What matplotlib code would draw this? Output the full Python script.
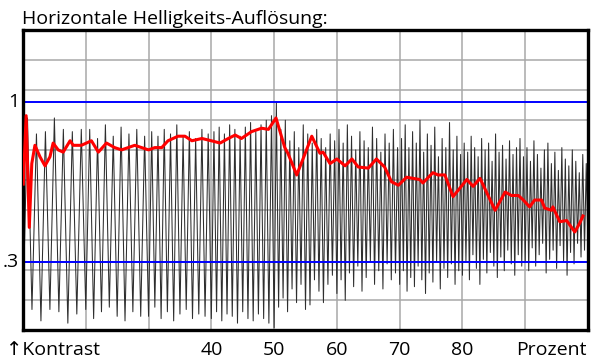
import numpy as np
import matplotlib
matplotlib.use("Agg")
import matplotlib.pyplot as plt
import matplotlib.transforms as mtransforms

plt.rcParams["font.family"] = ["Open Sans", "DejaVu Sans"]

# x axis: percent, one block of cycles per 10 % step
seg_starts = [10, 20, 30, 40, 50, 60, 70, 80, 90]
cycles_per_seg = [7, 8, 10, 12, 14, 15, 17, 18, 18]

peaks = [
    [0.93, 0.86, 0.87, 0.93, 0.88, 0.87, 0.88],
    [0.88, 0.84, 0.90, 0.85, 0.89, 0.86, 0.88, 0.85],
    [0.87, 0.85, 0.88, 0.86, 0.90, 0.85, 0.87, 0.84, 0.88, 0.86],
    [0.87, 0.89, 0.86, 0.90, 0.88, 0.85, 0.89, 0.91, 0.87, 0.90, 0.92, 0.94],
    [1.00, 0.88, 0.92, 0.83, 0.87, 0.80, 0.90, 0.86, 0.82, 0.88, 0.84, 0.80, 0.86, 0.83],
    [0.88, 0.82, 0.90, 0.85, 0.79, 0.87, 0.83, 0.80, 0.89, 0.84, 0.78, 0.86, 0.82, 0.88, 0.80],
    [0.84, 0.90, 0.80, 0.87, 0.82, 0.92, 0.78, 0.86, 0.81, 0.89, 0.76, 0.84, 0.80, 0.91, 0.79, 0.85, 0.77],
    [0.82, 0.78, 0.85, 0.80, 0.76, 0.84, 0.79, 0.82, 0.74, 0.86, 0.78, 0.81, 0.75, 0.83, 0.77, 0.80, 0.84, 0.76],
    [0.80, 0.74, 0.83, 0.77, 0.71, 0.79, 0.82, 0.73, 0.78, 0.70, 0.80, 0.75, 0.72, 0.79, 0.74, 0.69, 0.77, 0.73],
]
troughs = [
    [0.10, 0.09, 0.04, 0.09, 0.08, 0.03, 0.07],
    [0.09, 0.05, 0.08, 0.10, 0.06, 0.04, 0.08, 0.06],
    [0.06, 0.10, 0.05, 0.08, 0.04, 0.07, 0.09, 0.05, 0.07, 0.06],
    [0.05, 0.08, 0.04, 0.07, 0.06, 0.03, 0.08, 0.05, 0.04, 0.07, 0.05, 0.03],
    [0.01, 0.10, 0.14, 0.08, 0.18, 0.12, 0.20, 0.09, 0.11, 0.22, 0.17, 0.12, 0.20, 0.24],
    [0.16, 0.22, 0.13, 0.25, 0.19, 0.28, 0.17, 0.23, 0.30, 0.20, 0.26, 0.18, 0.29, 0.22, 0.25],
    [0.20, 0.26, 0.17, 0.23, 0.19, 0.28, 0.22, 0.16, 0.25, 0.21, 0.30, 0.18, 0.27, 0.23, 0.29, 0.20, 0.26],
    [0.24, 0.30, 0.22, 0.33, 0.27, 0.20, 0.31, 0.25, 0.34, 0.28, 0.23, 0.32, 0.26, 0.35, 0.29, 0.24, 0.33, 0.28],
    [0.30, 0.26, 0.36, 0.28, 0.33, 0.38, 0.25, 0.31, 0.35, 0.27, 0.37, 0.30, 0.24, 0.34, 0.29, 0.38, 0.32, 0.35],
]

# smoothed contrast curve (red)
red_x = [10.05, 10.5, 11.0, 11.4, 11.9, 12.7, 13.5, 14.3, 14.8, 15.6, 16.4, 17.5, 18.0, 19.3,
         20.9, 22.0, 23.3, 24.6, 25.7, 27.8, 30.0, 31.0, 32.1, 33.1, 34.7, 35.8, 36.9, 38.5,
         40.0, 41.4, 42.7, 43.8, 44.8, 46.4, 48.0, 49.1, 50.3, 51.7, 52.2, 53.6, 54.6, 56.0,
         57.3, 57.8, 58.9, 60.0, 61.3, 62.4, 63.4, 65.0, 66.3, 67.6, 68.7, 69.8, 71.1, 73.2,
         73.7, 75.3, 76.1, 77.2, 78.5, 80.7, 81.7, 82.8, 85.2, 86.8, 87.8, 88.9, 89.7, 90.7,
         91.5, 92.6, 93.1, 94.2, 94.4, 95.5, 96.6, 97.9, 98.7, 99.2]
red_y = [0.64, 0.94, 0.45, 0.73, 0.81, 0.76, 0.72, 0.76, 0.82, 0.79, 0.78, 0.83, 0.81, 0.81,
         0.83, 0.78, 0.82, 0.80, 0.79, 0.81, 0.79, 0.80, 0.80, 0.83, 0.85, 0.85, 0.83, 0.84,
         0.83, 0.82, 0.84, 0.855, 0.84, 0.87, 0.885, 0.88, 0.93, 0.80, 0.775, 0.68, 0.75, 0.85,
         0.775, 0.78, 0.73, 0.75, 0.72, 0.75, 0.715, 0.71, 0.75, 0.715, 0.65, 0.635, 0.67, 0.66,
         0.645, 0.69, 0.68, 0.68, 0.585, 0.66, 0.63, 0.665, 0.525, 0.605, 0.59, 0.59, 0.57, 0.54,
         0.57, 0.57, 0.535, 0.525, 0.54, 0.475, 0.48, 0.43, 0.47, 0.50]

ref_levels = [1.0, 0.3]
ref_labels = ["1", ".3"]
x_labels = [40, 50, 60, 70, 80]

# build the zig-zag trace from the per-cycle peaks and troughs
wx, wy = [], []
for s, n, pk, tr in zip(seg_starts, cycles_per_seg, peaks, troughs):
    step = 10.0 / n
    for j in range(n):
        wx += [s + j * step, s + (j + 0.5) * step]
        wy += [tr[j], pk[j]]
wx.append(100)
wy.append(troughs[-1][-1])

fig = plt.figure(figsize=(6.0, 3.64), dpi=100)
ax = fig.add_axes([23 / 600, 34 / 364, 565 / 600, 300 / 364])
ymax = 300 / 228
ax.set_xlim(10, 100)
ax.set_ylim(0, ymax)

for xv in range(20, 100, 10):
    ax.axvline(xv, color="#a8a8a8", lw=1.1, zorder=0)
for k in range(1, 10):
    ax.axhline(k * ymax / 10, color="#a8a8a8", lw=1.1, zorder=0)

ax.plot(wx, wy, color="#2e2e2e", lw=0.75, zorder=1)
for lvl in ref_levels:
    ax.axhline(lvl, color="#0000ff", lw=1.4, zorder=2)
ax.plot(red_x, red_y, color="#ff0000", lw=2.2, zorder=3)

ax.set_xticks([])
ax.set_yticks([])
for sp in ax.spines.values():
    sp.set_linewidth(2.4)
    sp.set_color("black")

fs = 14
fig.text(22 / 600, 1 - 24 / 364, "Horizontale Helligkeits-Auflösung:", fontsize=fs,
         ha="left", va="baseline")
tr_y = mtransforms.blended_transform_factory(fig.transFigure, ax.transData)
for lvl, lab in zip(ref_levels, ref_labels):
    fig.text(19 / 600, lvl, lab, transform=tr_y, fontsize=fs, ha="right", va="center")
tr_x = mtransforms.blended_transform_factory(ax.transData, fig.transFigure)
for xv in x_labels:
    ax.text(xv, 1 - 355 / 364, str(xv), transform=tr_x, fontsize=fs, ha="center", va="baseline")
fig.text(6 / 600, 1 - 355 / 364, "↑Kontrast", fontsize=fs, ha="left", va="baseline")
fig.text(587 / 600, 1 - 355 / 364, "Prozent", fontsize=fs, ha="right", va="baseline")

fig.savefig("out.png", dpi=100)
